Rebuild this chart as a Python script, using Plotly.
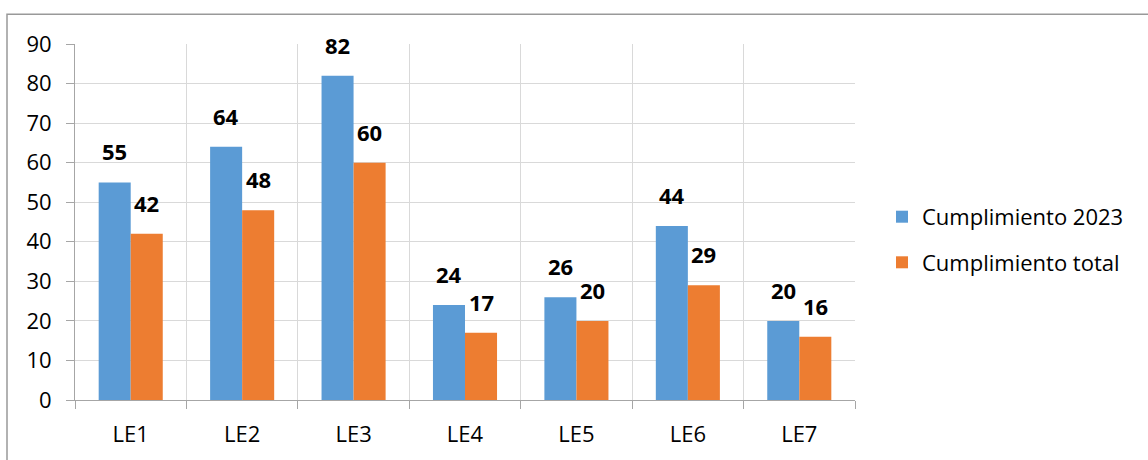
import plotly.graph_objects as go

categories = ["LE1", "LE2", "LE3", "LE4", "LE5", "LE6", "LE7"]
cumplimiento_2023 = [55, 64, 82, 24, 26, 44, 20]
cumplimiento_total = [42, 48, 60, 17, 20, 29, 16]
series_names = ["Cumplimiento 2023", "Cumplimiento total"]

W, H = 1148, 460
L, R, T, B = 75, 855, 44, 402
font_family = "Open Sans, Liberation Sans, sans-serif"
BAR_W = (R - L) / len(categories) * (1 - 0.425) / 2

fig = go.Figure()
for name, vals, color, grp in [
    (series_names[0], cumplimiento_2023, "#5B9BD5", "a"),
    (series_names[1], cumplimiento_total, "#ED7D31", "b"),
]:
    fig.add_trace(go.Bar(
        x=categories, y=vals, name=name,
        marker_color=color, marker_line_width=0,
        legendgroup=grp,
    ))

annotations = []
for vals, sign in [(cumplimiento_2023, -1), (cumplimiento_total, 1)]:
    for c, v in zip(categories, vals):
        annotations.append(dict(
            x=c, y=v, xref="x", yref="y", text=str(v), showarrow=False,
            xanchor="center", yanchor="bottom",
            xshift=sign * BAR_W / 2, yshift=14,
            font=dict(size=22, color="#000000", family=font_family, weight="bold"),
        ))

fig.update_layout(
    width=W, height=H,
    margin=dict(l=L, r=W - R, t=T, b=H - B, pad=0),
    paper_bgcolor="white", plot_bgcolor="white",
    barmode="group", bargap=0.425, bargroupgap=0,
    font=dict(family=font_family, size=22, color="#000000"),
    showlegend=True,
    legend=dict(
        x=(882 - L) / (R - L), y=(B - 241) / (B - T),
        xanchor="left", yanchor="middle",
        font=dict(size=22, color="#000000", family=font_family),
        tracegroupgap=14, itemwidth=30,
        bgcolor="rgba(0,0,0,0)",
    ),
    xaxis=dict(
        type="category", tickson="boundaries",
        showgrid=True, gridcolor="#D9D9D9", gridwidth=1,
        showline=True, linecolor="#A6A6A6", linewidth=1,
        ticks="outside", ticklen=8, tickcolor="#A6A6A6",
        tickfont=dict(size=22), ticklabelstandoff=15,
    ),
    yaxis=dict(
        range=[0, 90], dtick=10,
        showgrid=True, gridcolor="#D9D9D9", gridwidth=1,
        showline=True, linecolor="#A6A6A6", linewidth=1,
        ticks="outside", ticklen=8, tickcolor="#A6A6A6",
        tickfont=dict(size=22), zeroline=False, ticklabelstandoff=10,
    ),
    annotations=annotations,
    shapes=[dict(
        type="rect", xref="paper", yref="paper",
        x0=(7 - L) / (R - L), x1=2.0,
        y0=-1.0, y1=(B - 14) / (B - T),
        line=dict(color="#999999", width=1.5), fillcolor="rgba(0,0,0,0)",
        layer="below",
    )],
)

fig.write_html(
    "out.html",
    config={"displayModeBar": False},
    post_script="document.body.style.margin='0';",
)
